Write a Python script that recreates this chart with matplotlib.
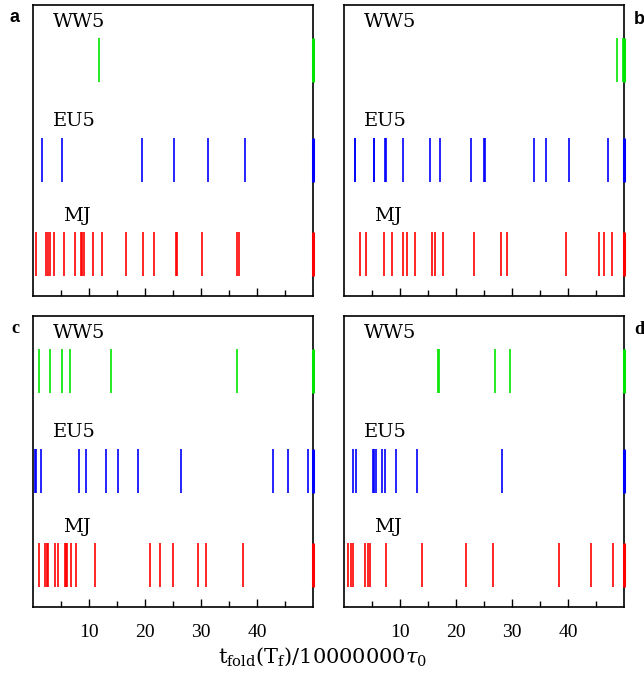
"""
Fold-time event rasters for four runs (a-d): WW5, EU5 and MJ rows.
Values of 50 mark events at or beyond the right edge of the window.
"""
import matplotlib
matplotlib.use("Agg")
import matplotlib.pyplot as plt

# ------------------------------------------------------------------------------
# Data (fold times, units of 1e7 tau_0)
# ------------------------------------------------------------------------------
PANELS = ["a", "b", "c", "d"]
ROWS = ["WW5", "EU5", "MJ"]

ww5_a = [11.85, 50.0]
eu5_a = [1.55, 5.18, 19.46, 25.18, 31.25, 37.86, 50.0]
mj_a = [0.54, 2.38, 2.74, 3.04, 3.69, 5.48, 7.44, 8.57, 8.81, 9.05, 10.65,
        12.26, 16.55, 19.58, 21.55, 25.48, 25.65, 30.18, 36.37, 36.73, 50.0]

ww5_b = [48.75, 49.9, 50.0]
eu5_b = [1.9, 2.0, 5.3, 5.4, 7.26, 7.56, 10.45, 15.42, 17.14, 22.62, 25.05,
         25.15, 33.87, 36.07, 40.18, 47.14, 50.0]
mj_b = [2.80, 3.99, 7.14, 8.57, 10.48, 11.25, 12.68, 15.77, 16.31, 17.74,
        23.27, 27.98, 29.17, 39.58, 45.54, 46.43, 47.86, 50.0]

ww5_c = [1.07, 3.10, 5.24, 6.61, 13.99, 36.43, 50.0]
eu5_c = [0.35, 0.5, 1.43, 8.21, 9.46, 13.04, 15.18, 18.75, 26.37, 42.92,
         45.48, 49.17, 50.0]
mj_c = [1.07, 2.14, 2.44, 2.74, 3.93, 4.52, 5.7, 5.85, 6.01, 6.85, 7.74,
        11.01, 20.83, 22.62, 25.00, 29.52, 30.89, 37.50, 50.0]

ww5_d = [16.8, 16.9, 26.90, 29.70, 50.0]
eu5_d = [1.55, 2.20, 5.25, 5.38, 5.71, 6.85, 7.38, 9.23, 13.04, 28.27, 50.0]
mj_d = [0.77, 1.25, 1.67, 3.81, 4.29, 4.64, 7.56, 13.93, 21.85, 26.67,
        38.33, 44.17, 47.98, 50.0]

SERIES = {
    "a": [ww5_a, eu5_a, mj_a],
    "b": [ww5_b, eu5_b, mj_b],
    "c": [ww5_c, eu5_c, mj_c],
    "d": [ww5_d, eu5_d, mj_d],
}

COLORS = ["#00e600", "#0000ff", "#ff0000"]
ROW_Y = [(0.735, 0.887), (0.392, 0.543), (0.069, 0.220)]
LABEL_POS = [(3.6, 0.94), (3.6, 0.60), (5.4, 0.275)]
XMAX = 50.0

W, H = 644, 673
# axes boxes in pixels: left, top, right, bottom
BOXES = {
    "a": (33, 5, 313, 296),
    "b": (344, 5, 624, 296),
    "c": (33, 316, 313, 607),
    "d": (344, 316, 624, 607),
}
LETTERS = {
    "a": (15, 17, "Liberation Sans"),
    "b": (639, 20, "Liberation Sans"),
    "c": (15, 328, "Liberation Serif"),
    "d": (639, 329, "Liberation Serif"),
}

plt.rcParams["mathtext.fontset"] = "dejavuserif"
fig = plt.figure(figsize=(W / 100, H / 100), dpi=100)

for p in PANELS:
    l, t, r, b = BOXES[p]
    ax = fig.add_axes([l / W, 1 - b / H, (r - l) / W, (b - t) / H])
    ax.set_xlim(0, XMAX)
    ax.set_ylim(0, 1)
    for vals, col, (y0, y1), (lx, ly), name in zip(SERIES[p], COLORS, ROW_Y,
                                                   LABEL_POS, ROWS):
        inside = [v for v in vals if v < XMAX]
        edge = [v for v in vals if v >= XMAX]
        ax.vlines(inside, y0, y1, colors=col, linewidth=1.2, zorder=3)
        ax.vlines(edge, y0, y1, colors=col, linewidth=2.2, clip_on=False,
                  zorder=4)
        ax.text(lx, ly, name, fontsize=14, family="DejaVu Serif",
                ha="left", va="center")
    ax.set_yticks([])
    ax.set_xticks([10, 20, 30, 40])
    ax.set_xticks([5, 15, 25, 35, 45], minor=True)
    ax.tick_params(axis="x", which="major", direction="in", length=6,
                   width=1.0, top=False, pad=12)
    ax.tick_params(axis="x", which="minor", direction="in", length=4,
                   width=1.0, top=False)
    if p in ("a", "b"):
        ax.set_xticklabels([])
    else:
        ax.set_xticklabels(["10", "20", "30", "40"], fontsize=14,
                           family="Liberation Serif")
    for s in ax.spines.values():
        s.set_linewidth(1.2)

    lx, ly, fam = LETTERS[p]
    fig.text(lx / W, 1 - ly / H, p, fontsize=13, family=fam,
             fontweight="bold", ha="center", va="center")

fig.text(322 / W, 1 - 657 / H,
         r"$\mathrm{t_{fold}(T_f)/10000000}\tau_0$",
         fontsize=15, ha="center", va="center")

fig.savefig("out.png", dpi=100)
